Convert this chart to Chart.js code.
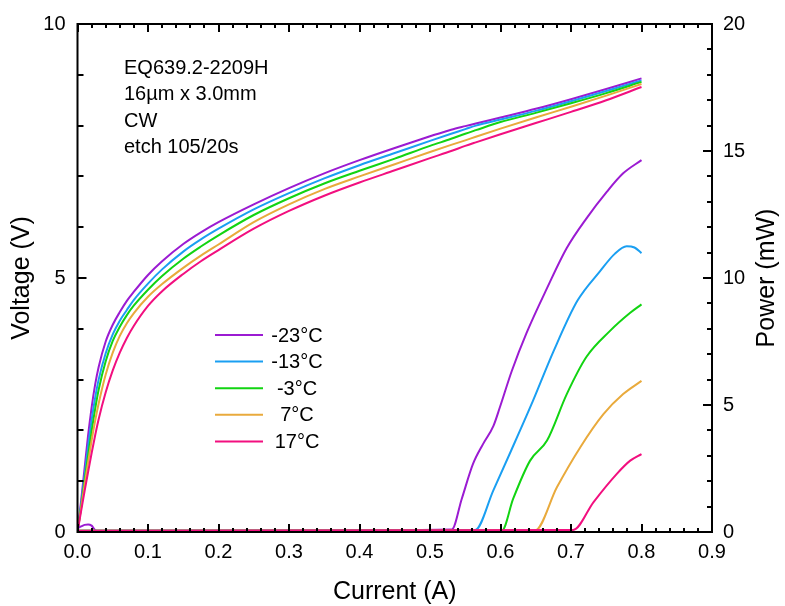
<!DOCTYPE html>
<html>
<head>
<meta charset="utf-8">
<script src="https://cdn.jsdelivr.net/npm/chart.js@4.4.1/dist/chart.umd.min.js"></script>
<style>
  html, body { margin: 0; padding: 0; background: #fff; }
  #wrap { width: 785px; height: 606px; }
</style>
</head>
<body>
<div id="wrap"><canvas id="liv-chart" width="785" height="606"></canvas></div>
<script>
// L-I-V data
const seriesLabels = ["-23°C", "-13°C", "-3°C", "7°C", "17°C"];
const seriesColors = ["#9b1bd2", "#1a9ff2", "#12d412", "#e9aa3c", "#f20f7f"];

const currentIV = [0, 0.005, 0.01, 0.015, 0.02, 0.025, 0.03, 0.04, 0.05, 0.06, 0.07, 0.08, 0.1, 0.12, 0.15, 0.175,
  0.2, 0.25, 0.3, 0.35, 0.4, 0.45, 0.5, 0.53, 0.55, 0.565, 0.6, 0.65, 0.7, 0.75, 0.8];

const voltM23 = [0, 0.6, 1.25, 1.9, 2.45, 2.9, 3.25, 3.75, 4.08, 4.33, 4.55, 4.73, 5.06, 5.33, 5.67, 5.9,
  6.1, 6.45, 6.77, 7.06, 7.32, 7.56, 7.79, 7.92, 7.99, 8.04, 8.16, 8.33, 8.52, 8.72, 8.93];
const voltM13 = [0, 0.53, 1.1, 1.68, 2.2, 2.64, 3.0, 3.52, 3.89, 4.16, 4.37, 4.57, 4.89, 5.17, 5.52, 5.76,
  5.97, 6.35, 6.67, 6.96, 7.22, 7.46, 7.7, 7.84, 7.93, 8.0, 8.12, 8.29, 8.48, 8.68, 8.89];
const voltM3 = [0, 0.48, 1.0, 1.5, 1.98, 2.42, 2.8, 3.36, 3.76, 4.04, 4.27, 4.46, 4.77, 5.04, 5.38, 5.62,
  5.84, 6.24, 6.57, 6.86, 7.11, 7.35, 7.6, 7.74, 7.84, 7.91, 8.07, 8.25, 8.44, 8.64, 8.86];
const volt7 = [0, 0.46, 0.92, 1.37, 1.8, 2.19, 2.53, 3.1, 3.53, 3.86, 4.11, 4.31, 4.63, 4.88, 5.2, 5.44,
  5.66, 6.1, 6.45, 6.75, 7.0, 7.24, 7.48, 7.62, 7.71, 7.78, 7.94, 8.16, 8.37, 8.59, 8.82];
const volt17 = [0, 0.4, 0.8, 1.18, 1.55, 1.9, 2.22, 2.75, 3.18, 3.53, 3.82, 4.06, 4.45, 4.74, 5.08, 5.33,
  5.55, 5.97, 6.32, 6.62, 6.88, 7.12, 7.36, 7.5, 7.6, 7.67, 7.83, 8.05, 8.27, 8.5, 8.76];

const currentLIM23 = [0, 0.005, 0.01, 0.015, 0.02, 0.025, 0.03, 0.3, 0.531, 0.545, 0.561, 0.575, 0.59, 0.599,
  0.616, 0.637, 0.666, 0.694, 0.722, 0.751, 0.774, 0.8];
const powerM23 = [0.15, 0.22, 0.28, 0.3, 0.25, 0.08, 0.05, 0.05, 0.1, 1.3, 2.68, 3.45, 4.18, 4.9,
  6.34, 7.84, 9.6, 11.18, 12.35, 13.4, 14.12, 14.64];
const currentLIM13 = [0, 0.564, 0.59, 0.615, 0.646, 0.675, 0.709, 0.741, 0.762, 0.779, 0.79, 0.8];
const powerM13 = [0.05, 0.08, 1.65, 3.2, 5.16, 7.1, 9.1, 10.26, 10.95, 11.25, 11.2, 10.98];
const currentLIM3 = [0, 0.602, 0.618, 0.642, 0.666, 0.694, 0.722, 0.755, 0.784, 0.8];
const powerM3 = [0.05, 0.06, 1.31, 2.81, 3.6, 5.43, 6.9, 7.91, 8.63, 8.96];
const currentLI7 = [0, 0.649, 0.68, 0.713, 0.746, 0.774, 0.8];
const power7 = [0.05, 0.06, 1.76, 3.33, 4.64, 5.43, 5.95];
const currentLI17 = [0, 0.703, 0.732, 0.765, 0.784, 0.8];
const power17 = [0.05, 0.08, 1.18, 2.29, 2.81, 3.07];

const infoLines = ["EQ639.2-2209H", "16µm x 3.0mm", "CW", "etch 105/20s"];

const FONT = "'Liberation Sans', Arial, sans-serif";

function toPoints(xs, ys) {
  return xs.map((x, i) => ({ x: x, y: ys[i] }));
}

const ivSets = [voltM23, voltM13, voltM3, volt7, volt17];
const liSets = [
  [currentLIM23, powerM23],
  [currentLIM13, powerM13],
  [currentLIM3, powerM3],
  [currentLI7, power7],
  [currentLI17, power17],
];

const datasets = [];
ivSets.forEach((v, i) => {
  datasets.push({
    label: seriesLabels[i] + " V",
    data: toPoints(currentIV, v),
    yAxisID: "y",
    borderColor: seriesColors[i],
    borderWidth: 2,
    pointRadius: 0,
    cubicInterpolationMode: "monotone",
    order: 10 - i,
  });
});
liSets.forEach((s, i) => {
  datasets.push({
    label: seriesLabels[i] + " P",
    data: toPoints(s[0], s[1]),
    yAxisID: "y2",
    borderColor: seriesColors[i],
    borderWidth: 2,
    pointRadius: 0,
    cubicInterpolationMode: "monotone",
    order: 5 - i,
  });
});

// frame, inward ticks, axis titles, legend and notes
const decorations = {
  id: "decorations",
  afterDraw(chart) {
    const { ctx, chartArea: a, scales } = chart;
    ctx.save();
    ctx.strokeStyle = "#000";
    ctx.lineWidth = 2;
    ctx.strokeRect(a.left, a.top, a.right - a.left, a.bottom - a.top);

    ctx.beginPath();
    for (let i = 0; i <= 45; i++) {
      const px = Math.round(scales.x.getPixelForValue(i * 0.02));
      const len = i % 5 === 0 ? 8 : 4;
      ctx.moveTo(px, a.bottom); ctx.lineTo(px, a.bottom - len);
      ctx.moveTo(px, a.top); ctx.lineTo(px, a.top + len);
    }
    for (let v = 0; v <= 10; v++) {
      const py = Math.round(scales.y.getPixelForValue(v));
      const len = v % 5 === 0 ? 9 : 6;
      ctx.moveTo(a.left, py); ctx.lineTo(a.left + len, py);
    }
    for (let p = 0; p <= 20; p++) {
      const py = Math.round(scales.y2.getPixelForValue(p));
      const len = p % 5 === 0 ? 9 : 5;
      ctx.moveTo(a.right, py); ctx.lineTo(a.right - len, py);
    }
    ctx.stroke();

    // axis titles
    ctx.fillStyle = "#000";
    ctx.font = "25px " + FONT;
    ctx.textAlign = "center";
    ctx.textBaseline = "middle";
    const midY = (a.top + a.bottom) / 2;
    ctx.fillText("Current (A)", (a.left + a.right) / 2, 592);
    ctx.save();
    ctx.translate(22, midY);
    ctx.rotate(-Math.PI / 2);
    ctx.fillText("Voltage (V)", 0, 0);
    ctx.restore();
    ctx.save();
    ctx.translate(767, midY);
    ctx.rotate(-Math.PI / 2);
    ctx.fillText("Power (mW)", 0, 0);
    ctx.restore();

    // device notes
    ctx.font = "20px " + FONT;
    ctx.textAlign = "left";
    ctx.textBaseline = "alphabetic";
    infoLines.forEach((t, i) => ctx.fillText(t, 124, 73.5 + i * 26.6));

    // legend
    ctx.lineWidth = 2;
    seriesLabels.forEach((lab, i) => {
      const y = 335 + i * 26.6;
      ctx.strokeStyle = seriesColors[i];
      ctx.beginPath();
      ctx.moveTo(215, y); ctx.lineTo(263, y);
      ctx.stroke();
      ctx.textAlign = "center";
      ctx.textBaseline = "middle";
      ctx.fillText(lab, 297, y + 1);
    });
    ctx.restore();
  },
};

const tickFont = { family: FONT, size: 20 };

new Chart(document.getElementById("liv-chart").getContext("2d"), {
  type: "line",
  data: { datasets },
  options: {
    responsive: false,
    animation: false,
    layout: { padding: { top: 22, left: 0, right: 0, bottom: 0 } },
    plugins: {
      legend: { display: false },
      tooltip: { enabled: false },
    },
    scales: {
      x: {
        type: "linear",
        min: 0,
        max: 0.9,
        grid: { display: false, drawTicks: false },
        border: { display: false },
        ticks: {
          stepSize: 0.1,
          color: "#000",
          font: tickFont,
          padding: 8,
          maxRotation: 0,
          callback: (v) => v.toFixed(1),
        },
        afterFit: (s) => { s.height = 74; },
      },
      y: {
        position: "left",
        min: 0,
        max: 10,
        grid: { display: false, drawTicks: false },
        border: { display: false },
        ticks: { stepSize: 5, color: "#000", font: tickFont, padding: 12 },
        afterFit: (s) => { s.width = 77.5; },
      },
      y2: {
        position: "right",
        min: 0,
        max: 20,
        grid: { display: false, drawTicks: false },
        border: { display: false },
        ticks: { stepSize: 5, color: "#000", font: tickFont, padding: 11 },
        afterFit: (s) => { s.width = 73; },
      },
    },
  },
  plugins: [decorations],
});
</script>
</body>
</html>
